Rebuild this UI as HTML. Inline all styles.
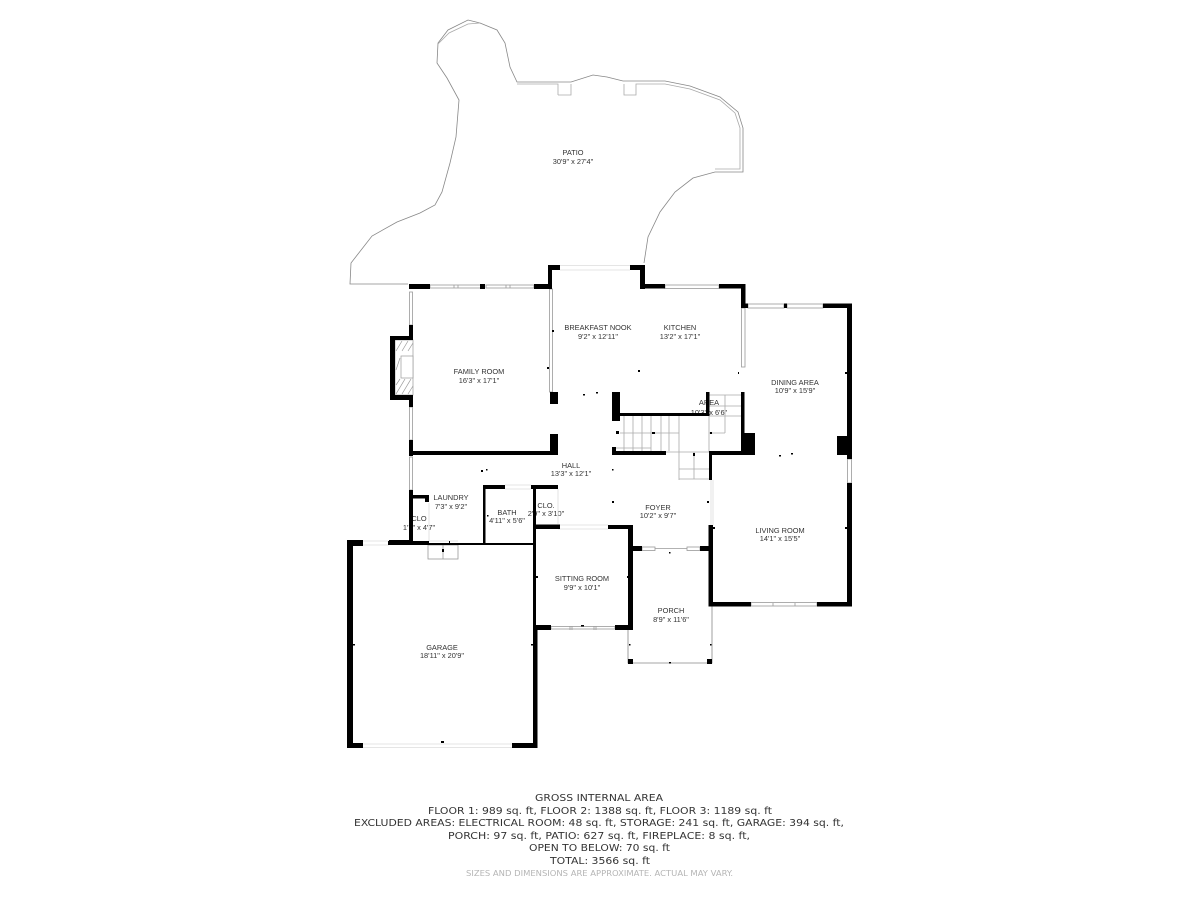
<!DOCTYPE html>
<html><head><meta charset="utf-8"><style>
html,body{margin:0;padding:0;background:#fff;width:1200px;height:900px;overflow:hidden}
svg{display:block}
.r text{font-family:"Liberation Sans",sans-serif;font-size:7.4px;fill:#333;text-anchor:middle}
.f text{font-family:"DejaVu Sans",sans-serif;font-size:10px;fill:#333;text-anchor:middle}
.g{fill:none;stroke:#888;stroke-width:.8}
.l{fill:none;stroke:#aaa;stroke-width:.8}
.d{fill:none;stroke:#ddd;stroke-width:.8}
.w{fill:#fff;stroke:#999;stroke-width:.8}
</style></head><body>
<svg width="1200" height="900" viewBox="0 0 1200 900" xmlns="http://www.w3.org/2000/svg">
<!-- patio -->
<path class="g" d="M408 284H350L351 263L372 236L397 222L420 213L435 205L442 192L450 163L456 137L459 100L447 78L437 63L438 43L448 30L468 20L480 23L497 30L505 43L510 67L517 82H571L593 75L607 77L623 81H665L690 86L720 97L738 112L743 128V172H715L693 178L675 192L660 212L648 237L644 263"/>
<path class="l" d="M438 44L449 33L468 24L480 23M517 84H558V95M571 84V95H558M624 84V95H636V84H665L690 89L720 100L735 113L740 128V169H715"/>
<!-- labels under walls -->
<g class="r">
<text x="573" y="155">PATIO</text><text x="573" y="164">30'9" x 27'4"</text>
<text x="479" y="374">FAMILY ROOM</text><text x="479" y="383">16'3" x 17'1"</text>
<text x="598" y="330">BREAKFAST NOOK</text><text x="598" y="339">9'2" x 12'11"</text>
<text x="680" y="330">KITCHEN</text><text x="680" y="339">13'2" x 17'1"</text>
<text x="795" y="385">DINING AREA</text><text x="795" y="393">10'9" x 15'9"</text>
<text x="709" y="405">AREA</text><text x="709" y="415">10'3" x 6'6"</text>
<text x="571" y="468">HALL</text><text x="571" y="476">13'3" x 12'1"</text>
<text x="658" y="510">FOYER</text><text x="658" y="518">10'2" x 9'7"</text>
<text x="780" y="533">LIVING ROOM</text><text x="780" y="541">14'1" x 15'5"</text>
<text x="451" y="500">LAUNDRY</text><text x="451" y="509">7'3" x 9'2"</text>
<text x="507" y="515">BATH</text><text x="507" y="523">4'11" x 5'6"</text>
<text x="546" y="508">CLO.</text><text x="546" y="516">2'9" x 3'10"</text>
<text x="419" y="521">CLO</text><text x="419" y="530">1'7" x 4'7"</text>
<text x="582" y="581">SITTING ROOM</text><text x="582" y="590">9'9" x 10'1"</text>
<text x="671" y="613">PORCH</text><text x="671" y="622">8'9" x 11'6"</text>
<text x="442" y="650">GARAGE</text><text x="442" y="658">18'11" x 20'9"</text>
</g>
<!-- fireplace detail -->
<g stroke="#999" stroke-width=".7" fill="none">
<rect x="395" y="340" width="18" height="55"/>
<rect x="401" y="356" width="12" height="22" fill="#fff"/>
<path d="M396 351L402 341M402 351L408 341M408 351L413 343M396 385L400 379M396 394L405 379M402 394L411 379M408 394L413 386M396 370L400 358"/>
</g>
<!-- stairs -->
<g class="l">
<path d="M624 416V451M633 416V451M642 416V451M651 416V451M661 416V451M669 416V451M679 416V480M709 416V452M620 433H679M616 448H651M666 452H709M679 469H709M679 479H709M694 452V479M709 395H741M709 406H741M709 416H741M725 395V433M709 433H725"/>
</g>
<!-- windows & openings -->
<g class="w">
<rect x="430" y="285" width="52" height="3"/><rect x="486" y="285" width="48" height="3"/><path d="M454 285V288M458 285V288M506 285V288M510 285V288"/>
<rect x="665" y="285" width="54" height="3.500"/>
<rect x="409.500" y="292" width="3" height="33"/>
<rect x="409.500" y="407" width="3" height="33"/>
<rect x="409.500" y="457" width="3" height="33"/>
<rect x="549.500" y="289" width="3" height="103"/>
<rect x="741.500" y="308" width="3.500" height="59"/>
<rect x="748" y="304" width="36" height="4"/><rect x="787" y="304" width="36" height="4"/>
<rect x="847.500" y="459" width="4" height="24"/>
<rect x="751" y="602.500" width="66" height="3.500"/><path d="M773 603V606M795 603V606"/>
<rect x="642" y="547" width="13" height="3.500"/><rect x="687" y="547" width="13" height="3.500"/><path d="M655 548.500H687"/>
<rect x="551" y="626.500" width="64" height="2.500"/><path d="M570 626V630M572 626V630M594 626V630M596 626V630"/>
<rect x="428" y="545" width="30" height="14"/><path d="M443 545V559"/>
</g>
<g class="d">
<path d="M560 265.500H630M560 270H630M558 525H608M558 529H608M363 541H389M363 545H389M363 744H512M363 747.500H512M505 485H531M505 489H531M429 503V541M558 489V524M711 480V525M713 480V525M429 541H458"/>
</g>
<!-- porch -->
<path class="g" d="M628 630V663H712V606"/>
<!-- walls -->
<g fill="#000">
<rect x="409" y="284" width="21" height="5"/><rect x="534" y="284" width="18" height="5"/><rect x="548" y="265" width="4" height="24"/><rect x="548" y="265" width="12" height="5"/>
<rect x="409" y="325" width="4" height="15"/><rect x="390" y="336" width="23" height="4"/><rect x="390" y="336" width="5" height="64"/><rect x="390" y="395" width="23" height="5"/><rect x="409" y="395" width="4" height="12"/>
<rect x="409" y="440" width="4" height="16"/><rect x="409" y="490" width="4" height="55"/>
<rect x="409" y="451" width="149" height="4"/><rect x="550" y="434" width="8" height="21"/><rect x="550" y="392" width="8" height="12"/>
<rect x="413" y="495" width="16" height="3.500"/><rect x="425" y="495" width="4" height="7"/>
<rect x="388" y="541" width="41" height="4"/><rect x="429" y="543" width="105" height="2"/>
<rect x="483" y="485" width="2.500" height="58"/><rect x="483" y="485" width="22" height="4"/><rect x="531" y="485" width="27" height="4"/>
<rect x="533" y="485" width="3" height="140"/><rect x="534" y="524.500" width="26" height="4.500"/>
<rect x="608" y="525" width="24" height="4"/><rect x="628" y="525" width="5" height="105"/>
<rect x="535" y="625" width="16" height="5"/><rect x="615" y="625" width="18" height="5"/>
<rect x="533" y="625" width="4.500" height="123"/>
<rect x="347" y="540" width="16" height="6"/><rect x="389" y="540" width="24" height="5"/><rect x="347" y="540" width="6" height="208"/><rect x="347" y="743" width="16" height="5"/><rect x="512" y="743" width="25" height="5"/>
<rect x="628" y="546" width="14" height="5"/><rect x="700" y="546" width="13" height="5"/>
<rect x="708.500" y="525" width="4.500" height="81"/><rect x="708.500" y="602" width="42.500" height="4.500"/><rect x="817" y="602" width="35" height="4.500"/>
<rect x="847" y="304" width="5" height="155"/><rect x="847" y="483" width="5" height="123"/><rect x="837" y="436" width="15" height="19"/>
<rect x="823" y="303.500" width="29" height="4.500"/><rect x="741" y="303.500" width="7" height="4.500"/><rect x="784" y="303.500" width="3" height="4.500"/>
<rect x="741" y="284" width="4.500" height="24"/><rect x="719" y="284" width="26" height="4.500"/><rect x="640" y="284" width="25" height="4.500"/><rect x="640" y="265" width="5" height="24"/><rect x="630" y="265" width="15" height="5"/>
<rect x="612" y="392" width="8" height="29"/><rect x="612" y="413" width="97" height="3"/><rect x="706" y="392" width="3.500" height="24"/>
<rect x="741" y="392" width="3.500" height="41"/><rect x="741" y="433" width="14" height="22"/><rect x="710" y="451" width="45" height="4"/><rect x="709" y="451" width="3" height="29"/>
<rect x="612" y="451" width="54" height="4"/><rect x="612" y="447" width="4" height="8"/>
<rect x="628" y="659" width="5" height="5"/><rect x="707" y="659" width="5" height="5"/>
<rect x="480" y="284" width="5" height="5"/>
<!-- small dots -->
<rect x="442" y="549" width="2" height="3"/><rect x="596" y="392" width="2" height="1.500"/><rect x="583" y="394" width="2" height="1.500"/><rect x="552" y="330" width="2" height="2"/><rect x="547" y="367" width="2" height="2"/>
<rect x="616" y="431" width="3" height="3"/><rect x="652" y="432" width="3" height="2"/><rect x="710" y="432" width="2" height="2"/><rect x="693" y="453" width="2" height="3"/><rect x="779" y="455" width="2" height="1.500"/><rect x="791" y="453" width="2" height="1.500"/>
<rect x="845" y="372" width="2" height="2"/><rect x="845" y="527" width="2" height="2"/><rect x="738" y="372" width="1" height="2"/><rect x="638" y="370" width="2" height="2"/><rect x="612" y="469" width="1.500" height="1.500"/><rect x="612" y="501" width="2" height="2"/><rect x="707" y="501" width="2" height="2"/><rect x="713" y="527" width="2" height="2"/><rect x="353" y="644" width="2" height="1.500"/><rect x="531" y="644" width="2" height="1.500"/><rect x="441" y="741" width="3" height="2"/><rect x="536" y="576" width="2" height="2"/><rect x="627" y="576" width="2" height="2"/><rect x="581" y="625" width="3" height="1.500"/><rect x="629" y="644" width="1.500" height="1.500"/><rect x="710" y="644" width="1.500" height="1.500"/><rect x="669" y="662" width="2" height="1.500"/><rect x="669" y="552" width="1.500" height="1.500"/><rect x="487" y="515" width="1.500" height="1.500"/><rect x="449" y="541" width="1" height="2"/><rect x="481" y="470" width="2" height="2"/><rect x="486" y="469" width="1.500" height="1.500"/>
</g>
<!-- footer -->
<g class="f">
<text x="599" y="801" textLength="128" lengthAdjust="spacingAndGlyphs">GROSS INTERNAL AREA</text>
<text x="600" y="814" textLength="344" lengthAdjust="spacingAndGlyphs">FLOOR 1: 989 sq. ft, FLOOR 2: 1388 sq. ft, FLOOR 3: 1189 sq. ft</text>
<text x="599" y="826" textLength="490" lengthAdjust="spacingAndGlyphs">EXCLUDED AREAS: ELECTRICAL ROOM: 48 sq. ft, STORAGE: 241 sq. ft, GARAGE: 394 sq. ft,</text>
<text x="599" y="839" textLength="302" lengthAdjust="spacingAndGlyphs">PORCH: 97 sq. ft, PATIO: 627 sq. ft, FIREPLACE: 8 sq. ft,</text>
<text x="599.500" y="851" textLength="141" lengthAdjust="spacingAndGlyphs">OPEN TO BELOW: 70 sq. ft</text>
<text x="600" y="864" textLength="100" lengthAdjust="spacingAndGlyphs">TOTAL: 3566 sq. ft</text>
<text x="599.500" y="876" textLength="267" lengthAdjust="spacingAndGlyphs" style="font-size:8px;fill:#b5b5b5">SIZES AND DIMENSIONS ARE APPROXIMATE. ACTUAL MAY VARY.</text>
</g>
</svg>
</body></html>
